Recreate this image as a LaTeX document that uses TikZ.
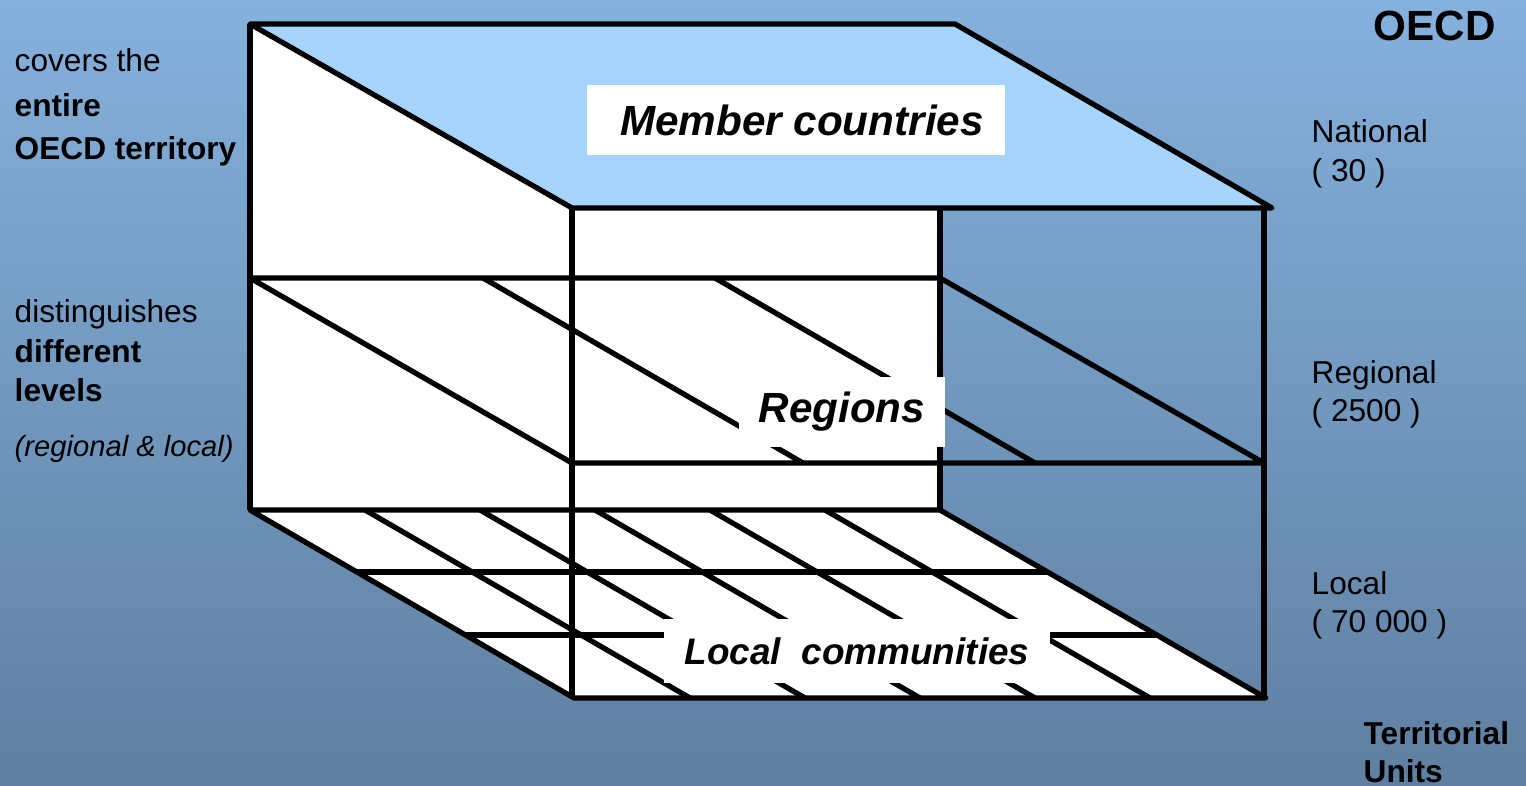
\documentclass[tikz,border=0pt]{standalone}
\usepackage{fontspec}
\setmainfont{Liberation Sans}
\usetikzlibrary{calc}

\definecolor{bgtop}{RGB}{133,177,221}
\definecolor{bgbot}{RGB}{95,127,160}
\definecolor{roof}{RGB}{166,212,253}

\begin{document}
\begin{tikzpicture}[x=0.01cm,y=-0.01cm,
    edge/.style={line width=1.5pt,line join=round},
    tag/.style={fill=white,inner sep=0pt,font=\fontsize{12}{14}\selectfont\bfseries\itshape},
    note/.style={anchor=base west,inner sep=0pt,font=\fontsize{9}{11}\selectfont}]
    \useasboundingbox (0,0) rectangle (1526,786);
    \shade[top color=bgtop,bottom color=bgbot] (0,0) rectangle (1526,786);

    % corners of the block
    \coordinate (ta) at (250,24);
    \coordinate (tb) at (955,24);
    \coordinate (tc) at (1272,208);
    \coordinate (td) at (572,208);
    \coordinate (ma) at (250,278);
    \coordinate (mb) at (940,278);
    \coordinate (mc) at (1264,463);
    \coordinate (md) at (572,463);
    \coordinate (ba) at (250,510);
    \coordinate (bb) at (940,510);
    \coordinate (bc) at (1266,698);
    \coordinate (bd) at (574,698);

    % faces
    \fill[white] (ta) rectangle (bb);
    \fill[roof] (ta) -- (tb) -- (tc) -- (td) -- cycle;
    \fill[white] (ba) -- (bb) -- (bc) -- (bd) -- cycle;

    % edges
    \draw[edge] (ta) -- (tb) -- (tc) -- (td) -- cycle;
    \draw[edge] (ta) -- (ba);
    \draw[edge] (940,208) -- (bb);
    \draw[edge] (td) -- (572,698);
    \draw[edge] (1264,208) -- (1264,698);
    \draw[edge] (ma) -- (mb) -- (mc) -- (md) -- cycle;
    \draw[edge] (483,278) -- (803,463);
    \draw[edge] (715,278) -- (1035,463);
    \draw[edge] (ba) -- (bb) -- (bc) -- (bd) -- cycle;
    \draw[edge] (357,572) -- (1047,572);
    \draw[edge] (466,635) -- (1156,635);
    \foreach \x in {365,480,595,710,825}
        \draw[edge] (\x,510) -- ++(325,188);

    % level labels
    \node[tag,minimum width=4.18cm,minimum height=0.70cm] (member) at (796,120) {\hspace*{0.12cm}Member countries};
    \node[tag,minimum width=2.05cm,minimum height=0.70cm] (regions) at (842,412) {\raisebox{-0.04cm}{Regions}};
    \node[tag,minimum width=3.85cm,minimum height=0.63cm,font=\fontsize{10.5}{12}\selectfont\bfseries\itshape] (local) at (857,651) {Local\ \ communities};

    % left side
    \node[note] (covers) at (14,72) {covers the};
    \node[note,font=\fontsize{9}{11}\selectfont\bfseries] (entire) at (14,117) {entire};
    \node[note,font=\fontsize{9}{11}\selectfont\bfseries] (territory) at (14,160) {OECD territory};
    \node[note] (disting) at (14,323) {distinguishes};
    \node[note,font=\fontsize{9}{11}\selectfont\bfseries] (different) at (14,363) {different};
    \node[note,font=\fontsize{9}{11}\selectfont\bfseries] (levels) at (14,402) {levels};
    \node[note,font=\fontsize{8.3}{10}\selectfont\itshape] (reglocal) at (14,457) {(regional \& local)};

    % right side
    \node[note,font=\fontsize{12}{14}\selectfont\bfseries] (oecd) at (1373,41) {OECD};
    \node[note] (national) at (1311,143) {National};
    \node[note] (nnum) at (1311,182) {( 30 )};
    \node[note] (regional) at (1311,384) {Regional};
    \node[note] (rnum) at (1311,422) {( 2500 )};
    \node[note] (locallvl) at (1311,595) {Local};
    \node[note] (lnum) at (1311,633) {( 70 000 )};
    \node[note,font=\fontsize{9}{11}\selectfont\bfseries] (territorial) at (1363,745) {Territorial};
    \node[note,font=\fontsize{9}{11}\selectfont\bfseries] (units) at (1363,783) {Units};
\end{tikzpicture}
\end{document}
